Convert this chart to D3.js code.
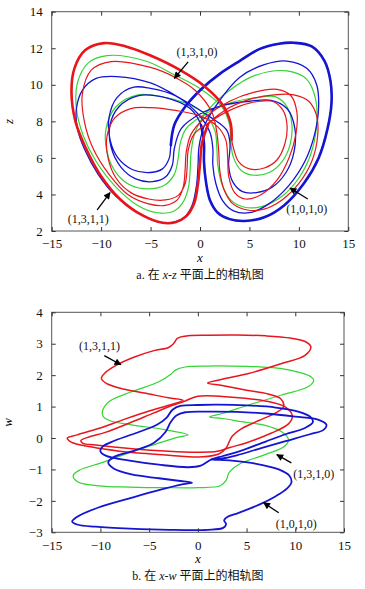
<!DOCTYPE html>
<html><head><meta charset="utf-8">
<script src="https://cdn.jsdelivr.net/npm/d3@7"></script>
<style>body{margin:0;background:#fff}svg{display:block}</style>
</head><body>
<script>
// ---------- ticks ----------
const xTicks = [-15,-10,-5,0,5,10,15];
const zTicks = [2,4,6,8,10,12,14];
const wTicks = [-3,-2,-1,0,1,2,3,4];

// ---------- panel a : x-z (each orbit = list of wing loops, in traversal order) ----------
const redXZ = [
 [[3.1,7.9],[2.3,8.9],[0.5,9.9],[-2,10.8],[-5,11.6],[-7.5,12.1],[-9.7,12.28],[-11.6,11.9],[-12.7,10.9],[-13.0,9.6],[-12.6,8.0],[-11.6,6.6],[-10,5.0],[-8,3.7],[-5.8,2.85],[-3.8,2.45],[-2.5,2.48],[-1.4,2.8],[-0.6,3.5],[-0.2,4.6],[0,5.7],[0.2,6.8]],
 [[0.8,7.8],[2.5,8.6],[5,9.2],[7.5,9.45],[9.5,9.45],[11,9.1],[11.8,8.3],[11.9,7.2],[11.3,5.8],[10,4.6],[8.3,3.7],[6.5,3.2],[4.8,3.15],[3.3,3.5],[2.4,4.3],[2.0,5.3],[1.9,6.3]],
 [[1.7,7.4],[1.2,8.5],[-0.5,9.7],[-2.5,10.4],[-5,10.95],[-9,11.27],[-11,10.8],[-11.9,9.5],[-11.7,8],[-10.8,6.5],[-9.2,5.1],[-7.3,4.0],[-5.3,3.5],[-3.5,3.4],[-2.3,3.7],[-1.7,4.4],[-1.5,5.4],[-1.4,6.3]],
 [[-0.9,7.3],[0.5,8.2],[3,9.1],[5.5,9.6],[7.8,9.75],[9.2,9.4],[9.8,8.5],[9.7,7.3],[9,6],[7.8,4.8],[6.2,4.0],[4.6,3.75],[3.5,4.1],[2.9,5],[2.8,6]],
 [[2.6,7.0],[1.8,7.7],[0,8.3],[-2.5,8.6],[-5,8.75],[-7,8.7],[-8.6,8.2],[-9.4,7.2],[-9.3,6.0],[-8.5,4.9],[-7,4.1],[-5.2,3.75],[-3.5,3.7],[-2.2,3.95],[-1.5,4.6],[-1.3,5.5],[-1.2,6.4]],
 [[-0.6,7.3],[0.8,7.9],[3,8.6],[5,9.0],[7.3,9.1],[8.4,8.6],[8.8,7.8],[8.6,6.8],[7.8,5.9],[6.5,5.45],[5,5.4],[3.9,5.8],[3.4,6.5],[3.2,7.0]]
];
const greenXZ = [
 [[3.0,7.8],[2.2,8.8],[0,9.8],[-2.6,10.55],[-5.5,11.3],[-9.4,11.6],[-11.3,11.2],[-12.4,10.1],[-12.5,8.7],[-11.8,7.2],[-10.5,5.8],[-8.5,4.4],[-6.3,3.4],[-4.3,3.0],[-2.8,3.05],[-1.8,3.5],[-1.2,4.3],[-1.0,5.3],[-0.9,6.3]],
 [[-0.5,7.4],[0.8,8.6],[3,9.7],[5.5,10.5],[8.8,10.76],[10.8,10.3],[11.7,9.2],[11.8,7.8],[11.2,6.2],[10,4.9],[8.3,3.9],[6.3,3.35],[4.5,3.3],[3.1,3.7],[2.2,4.6],[1.8,5.6],[1.7,6.6]],
 [[1.5,7.5],[0.5,8.4],[-2,9.1],[-4.5,9.4],[-6.3,9.45],[-8.5,8.8],[-9.5,7.6],[-9.4,6.3],[-8.5,5.2],[-7,4.5],[-5.2,4.3],[-3.6,4.5],[-2.6,5.1],[-2.2,6.0],[-2.0,6.8]],
 [[-1.4,7.6],[0.5,8.4],[3,9.0],[5.8,9.3],[7.6,9.35],[8.8,8.8],[9.3,7.8],[9.1,6.7],[8.3,5.8],[7,5.2],[5.5,5.05],[4.2,5.3],[3.4,6.0],[3.1,6.9]]
];
const blueXZ = [
 [[3.03,6.8],[2.7,7.52],[1.0,8.25],[-1.7,9.17],[-5,10.1],[-8.4,10.45],[-10.5,10.35],[-11.9,9.7],[-12.5,8.7],[-12.4,7.6],[-11.7,6.5],[-10.3,5.1],[-8.5,3.9],[-6.3,3.0],[-4.2,2.5],[-2.8,2.47],[-1.6,2.75],[-0.8,3.4],[-0.35,4.5],[-0.2,5.6],[-0.1,6.6]],
 [[0.4,7.7],[1.8,9.0],[4,10.4],[6.5,11.1],[8.8,11.3],[10.8,10.9],[11.8,10],[12.0,8.8],[11.6,7.3],[10.6,5.8],[9.0,4.5],[7.0,3.5],[5.0,3.0],[3.4,3.1],[2.3,3.65],[1.6,4.6],[1.3,5.6],[1.3,6.5]],
 [[1.0,7.4],[-0.2,8.4],[-2.5,9.4],[-5,9.8],[-6.7,9.87],[-8.4,9.3],[-9.2,8.2],[-9.1,7.0],[-8.3,6.0],[-6.8,5.35],[-5.0,5.2],[-3.8,5.4],[-3.1,6.0],[-2.95,6.7]],
 [[-2.6,7.8],[-1.5,8.8],[0.2,9.8],[2,10.6],[4,11.3],[6,11.95],[8,12.25],[9.5,12.3],[11.3,12.1],[12.6,11.3],[13.2,10.2],[13.3,9.0],[12.9,7.6],[12,6.0],[10.5,4.6],[8.5,3.4],[6.5,2.75],[4.5,2.55],[3,2.65],[1.8,3.0],[1.0,3.7],[0.6,4.7],[0.4,5.8],[0.4,6.8]],
 [[0.1,7.8],[-1,8.7],[-3.5,9.3],[-6.3,9.4],[-8.2,8.8],[-9.1,7.8],[-9.0,6.6],[-8.0,5.5],[-6.5,4.85],[-4.8,4.7],[-3.5,4.95],[-2.8,5.6],[-2.6,6.5]],
 [[-1.9,7.6],[0,8.4],[2.5,8.9],[5,9.1],[7.2,9.15],[8.8,8.7],[9.6,7.6],[9.5,6.3],[8.7,5.2],[7.3,4.4],[5.7,4.1],[4.3,4.15],[3.3,4.7],[2.9,5.6],[3.0,6.3]]
];
// loops drawn heavier in the reference (index into the loop lists)
const redThick = [0];
const greenThick = [];
const blueThick = [3];

// ---------- panel b : x-w ----------
const redXW_A = [[11.6,2.9],[11.0,3.07],[9.5,3.18],[7,3.25],[4,3.28],[1,3.27],[-1.3,3.24],[-2.1,3.17],[-2.5,3.0],[-3.0,2.88],[-4.5,2.78],[-6.5,2.58],[-8.3,2.33],[-9.5,2.08],[-9.9,1.9],[-9.4,1.74],[-7.5,1.55],[-5,1.4],[-3,1.28],[-1.5,1.2],
 [-3,1.04],[-5,0.86],[-7.5,0.6],[-10.2,0.3],[-12.4,0.1],[-13.4,0],[-13.0,-0.13],[-11,-0.28],[-8,-0.42],[-5,-0.5],[-2,-0.57],[0.5,-0.6],[2.2,-0.5],[2.9,-0.32],[3.5,0.05],[4.5,0.3],[6.2,0.55],[8.0,0.8],[8.8,1.0],
 [8.5,1.25],[7.2,1.4],[5,1.52],[2.5,1.67],[1,1.75],[2.5,1.87],[5.2,2.05],[8.6,2.37],[11,2.63]];
const redXW_B = [[-1.5,1.15],[0,1.33],[3.5,1.3],[6.9,1.18],[9.0,0.98],[9.7,0.7],[9.3,0.45],[7.5,0.15],[5,-0.15],[3.3,-0.3],[2,-0.42],[0,-0.45],[-3,-0.42],[-7,-0.33],[-10.5,-0.22],[-11.8,-0.17],[-12,-0.08],[-11.3,0.02],[-9.5,0.18],[-7,0.48],[-4.5,0.8],[-2.5,1.05]];
const greenXW = [[-9.8,0.84],[-9.1,1.16],[-6.8,1.47],[-4,1.79],[-2.8,2.02],[-2.3,2.16],[-1.3,2.26],[1,2.29],[3.5,2.29],[6,2.27],[8.6,2.21],[10.5,2.08],[11.6,1.95],[11.9,1.84],[11.3,1.63],[8.6,1.37],[5.2,1.05],[2.5,0.78],[1.2,0.67],
 [2.5,0.62],[4.5,0.52],[6.9,0.4],[8.6,0.2],[9.3,-0.05],[8.9,-0.26],[6.9,-0.53],[4.2,-0.84],[3.2,-1.1],[2.9,-1.35],[2.3,-1.52],[0,-1.58],[-3.3,-1.58],[-7,-1.56],[-10.2,-1.52],[-12.3,-1.4],[-12.8,-1.2],[-12.2,-1.03],[-10,-0.8],[-8.5,-0.63],[-5,-0.26],[-2,0.03],[-1,0.1],
 [-3.3,0.26],[-6.8,0.42],[-9,0.55],[-9.7,0.68]];
const blueXW_A = [[1.4,-0.68],[2.5,-0.58],[4,-0.45],[6.9,-0.12],[9,0.12],[11,0.32],[11.8,0.5],[11.6,0.66],[10.3,0.84],[8,0.97],[5,1.04],[2,1.06],[0,1.05],[-1.8,1.02],[-2.6,0.9],[-3.2,0.65],[-4.2,0.42],[-6,0.2],[-8.5,-0.08],[-9.8,-0.28],[-10,-0.42],[-9.4,-0.57],[-7,-0.72],[-4,-0.85],[-1,-0.93],[0.3,-0.88]];
const blueXW_B = [[1.4,-0.68],[3.5,-0.72],[6,-0.82],[8.3,-1.0],[9.4,-1.2],[9.6,-1.42],[9.1,-1.62],[8,-1.85],[6.3,-2.12],[4.2,-2.38],[3.1,-2.5],[2.7,-2.62],[2.9,-2.74],[2.6,-2.86],[1,-2.92],[-3,-2.92],[-7,-2.88],[-10.5,-2.82],[-12.3,-2.76],[-12.9,-2.66],[-12.5,-2.53],[-10.2,-2.21],[-7,-1.92],[-4,-1.66],[-1.5,-1.47],[-0.6,-1.42],
 [-2,-1.36],[-4,-1.28],[-6.8,-1.16],[-8.6,-0.98],[-9.2,-0.78],[-8.6,-0.6],[-6.5,-0.4],[-4.5,-0.15],[-3.3,0.2],[-2.8,0.5],[-2.2,0.72],[-1.3,0.82],[1,0.84],[4,0.83],[7,0.78],[10,0.68],[12.4,0.58],[13.2,0.42],[12.9,0.26],[11.5,0.12],[9,-0.1],[6.5,-0.32],[4,-0.55],[2.5,-0.65]];

// ---------- annotations (data coords) ----------
const notesA = [
  {t:"(1,3,1,0)", tx:-0.3, ty:11.8, from:[-1.2,11.25], to:[-2.6,10.35]},
  {t:"(1,3,1,1)", tx:-11.3, ty:2.65, from:[-10.4,3.15], to:[-9.1,4.1]},
  {t:"(1,0,1,0)", tx:10.8, ty:3.2, from:[10.9,3.75], to:[9.1,4.35]}
];
const notesB = [
  {t:"(1,3,1,1)", tx:-10.1, ty:2.92, from:[-9.6,2.62], to:[-7.9,2.33]},
  {t:"(1,3,1,0)", tx:11.9, ty:-1.15, from:[9.6,-0.79], to:[8.1,-0.53]},
  {t:"(1,0,1,0)", tx:10.1, ty:-2.75, from:[8.3,-2.38], to:[6.75,-2.06]}
];

const COL = {red:"#e8161c", green:"#33d433", blue:"#1414d2"};
const SERIF = "'Liberation Serif', 'Times New Roman', serif";
const fmt = d => d < 0 ? "\u2212" + Math.abs(d) : String(d);

const svg = d3.select("body").append("svg").attr("width",365).attr("height",589);
svg.append("defs").append("marker").attr("id","ah").attr("viewBox","0 0 10 10").attr("refX",9).attr("refY",5)
  .attr("markerWidth",9).attr("markerHeight",7).attr("orient","auto").attr("markerUnits","userSpaceOnUse")
  .append("path").attr("d","M0,0L10,5L0,10z").attr("fill","#000");

function panel(o){
  const g = svg.append("g");
  const x = d3.scaleLinear().domain([-15,15]).range([o.left,o.right]);
  const y = d3.scaleLinear().domain(o.ydom).range([o.bottom,o.top]);
  const closed = d3.line().x(d=>x(d[0])).y(d=>y(d[1])).curve(d3.curveCatmullRomClosed.alpha(0.5));
  const open = d3.line().x(d=>x(d[0])).y(d=>y(d[1])).curve(d3.curveCatmullRom.alpha(0.5));
  o.series.forEach(s=>{
    const pts = s.loops ? s.loops.flat() : s.data;
    g.append("path").attr("d",closed(pts)).attr("fill","none")
     .attr("stroke",s.color).attr("stroke-width",s.w).attr("stroke-linejoin","round");
    (s.thick||[]).forEach(k=>{
      const n = s.loops.length;
      const prev = s.loops[(k-1+n)%n], next = s.loops[(k+1)%n];
      const seg = [prev[prev.length-1], ...s.loops[k], next[0]];
      g.append("path").attr("d",open(seg)).attr("fill","none")
       .attr("stroke",s.color).attr("stroke-width",s.tw).attr("stroke-linecap","round");
    });
  });
  g.append("rect").attr("x",o.left).attr("y",o.top).attr("width",o.right-o.left).attr("height",o.bottom-o.top)
    .attr("fill","none").attr("stroke","#555").attr("stroke-width",1);
  const ax = (gen, tr) => {
    const a = g.append("g").attr("transform",tr).call(gen);
    a.select(".domain").remove();
    a.selectAll("line").attr("stroke","#333");
    a.selectAll("text").style("font-family",SERIF).style("font-size","13px").attr("fill","#111");
    return a;
  };
  ax(d3.axisBottom(x).tickValues(xTicks).tickSize(-4).tickPadding(8).tickFormat(fmt), `translate(0,${o.bottom})`);
  ax(d3.axisTop(x).tickValues(xTicks).tickSize(-4).tickFormat(""), `translate(0,${o.top})`);
  ax(d3.axisLeft(y).tickValues(o.yticks).tickSize(-4).tickPadding(9).tickFormat(fmt), `translate(${o.left},0)`);
  ax(d3.axisRight(y).tickValues(o.yticks).tickSize(-4).tickFormat(""), `translate(${o.right},0)`);
  g.append("text").attr("x",x(0)).attr("y",o.bottom+31).attr("text-anchor","middle")
    .style("font-family",SERIF).style("font-style","italic").style("font-size","13px").text("x");
  g.append("text").attr("transform",`translate(${o.ylabX},${(o.top+o.bottom)/2}) rotate(-90)`).attr("text-anchor","middle")
    .style("font-family",SERIF).style("font-style","italic").style("font-size","13px").text(o.ylab);
  const cap = g.append("text").attr("x",x(0)).attr("y",o.bottom+48).attr("text-anchor","middle")
    .style("font-family",SERIF+", 'Noto Sans CJK SC'").style("font-size","12px").attr("fill","#111");
  cap.append("tspan").text(o.capA + " 在 ");
  cap.append("tspan").style("font-style","italic").text("x");
  cap.append("tspan").text("-");
  cap.append("tspan").style("font-style","italic").text(o.ylab);
  cap.append("tspan").text(" 平面上的相轨图");
  o.notes.forEach(n=>{
    g.append("text").attr("x",x(n.tx)).attr("y",y(n.ty)+4).attr("text-anchor","middle")
      .style("font-family",SERIF).style("font-size","12px").attr("fill","#111").text(n.t);
    g.append("line").attr("x1",x(n.from[0])).attr("y1",y(n.from[1])).attr("x2",x(n.to[0])).attr("y2",y(n.to[1]))
      .attr("stroke","#000").attr("stroke-width",1.3).attr("marker-end","url(#ah)");
  });
}

panel({left:51.7,right:348.3,top:11.7,bottom:231,ydom:[2,14],yticks:zTicks,ylab:"z",ylabX:13,capA:"a.",
  series:[{loops:greenXZ,color:COL.green,w:1.2,thick:greenThick,tw:2.4},
          {loops:blueXZ,color:COL.blue,w:1.3,thick:blueThick,tw:2.6},
          {loops:redXZ,color:COL.red,w:1.2,thick:redThick,tw:2.6}],notes:notesA});
panel({left:51.7,right:344,top:312.3,bottom:532.3,ydom:[-3,4],yticks:wTicks,ylab:"w",ylabX:12,capA:"b.",
  series:[{data:greenXW,color:COL.green,w:1.2},{data:redXW_A,color:COL.red,w:1.5},{data:redXW_B,color:COL.red,w:1.5},
          {data:blueXW_A,color:COL.blue,w:1.8},{data:blueXW_B,color:COL.blue,w:1.8}],notes:notesB});
</script>
</body></html>
